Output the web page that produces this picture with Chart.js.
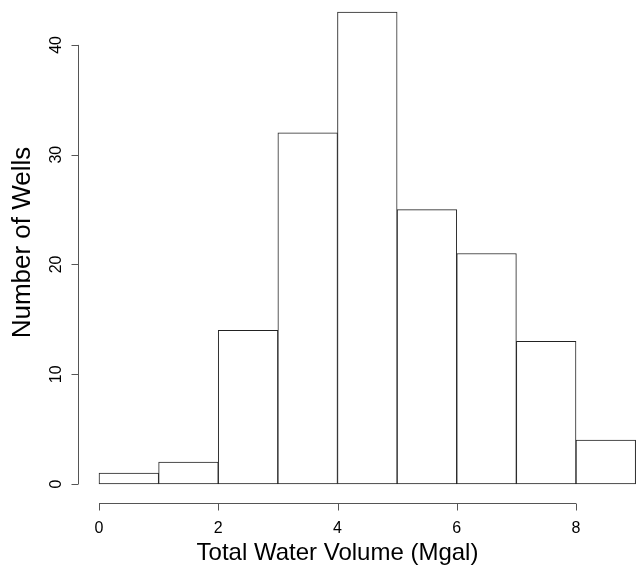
<!DOCTYPE html>
<html>
<head>
<meta charset="utf-8">
<script src="https://cdn.jsdelivr.net/npm/chart.js@4/dist/chart.umd.min.js"></script>
<style>
  html, body { margin: 0; padding: 0; background: #fff; }
  #wrap { width: 638px; height: 571px; }
</style>
</head>
<body>
<div id="wrap"><canvas id="histChart" width="638" height="571"></canvas></div>
<script>
// histogram bins (Mgal) and counts
const binStarts = [0, 1, 2, 3, 4, 5, 6, 7, 8];
const binWidth = 1;
const wellCounts = [1, 2, 14, 32, 43, 25, 21, 13, 4];
const xTicks = [0, 2, 4, 6, 8];
const yTicks = [0, 10, 20, 30, 40];

const FONT = "'Liberation Sans', Arial, sans-serif";

// R-style axes: detached line from first to last tick, ticks pointing outward
const rAxes = {
  id: "rAxes",
  afterDraw(chart) {
    const { ctx, scales: { x, y } } = chart;
    ctx.save();
    ctx.strokeStyle = "#555";
    ctx.lineWidth = 1;

    const axY = Math.round(chart.chartArea.bottom + 19) + 0.5;
    ctx.beginPath();
    ctx.moveTo(x.getPixelForValue(xTicks[0]), axY);
    ctx.lineTo(x.getPixelForValue(xTicks[xTicks.length - 1]), axY);
    xTicks.forEach((t) => {
      const px = Math.round(x.getPixelForValue(t)) + 0.5;
      ctx.moveTo(px, axY);
      ctx.lineTo(px, axY + 7);
    });
    ctx.stroke();

    const axX = Math.round(chart.chartArea.left - 21) + 0.5;
    ctx.beginPath();
    ctx.moveTo(axX, y.getPixelForValue(yTicks[0]));
    ctx.lineTo(axX, y.getPixelForValue(yTicks[yTicks.length - 1]));
    yTicks.forEach((t) => {
      const py = Math.round(y.getPixelForValue(t)) + 0.5;
      ctx.moveTo(axX, py);
      ctx.lineTo(axX - 7, py);
    });
    ctx.stroke();
    ctx.restore();
  },
};

new Chart(document.getElementById("histChart"), {
  type: "bar",
  data: {
    datasets: [
      {
        label: "Number of Wells",
        data: binStarts.map((s, i) => ({ x: s + binWidth / 2, y: wellCounts[i] })),
        backgroundColor: "#fff",
        borderColor: "#222",
        borderWidth: 1,
        borderSkipped: false,
        barPercentage: 1,
        categoryPercentage: 1,
        clip: false,
      },
    ],
  },
  options: {
    responsive: false,
    animation: false,
    layout: { padding: { top: 1, right: 62, left: 0, bottom: 0 } },
    plugins: {
      legend: { display: false },
      tooltip: { enabled: false },
    },
    scales: {
      x: {
        type: "linear",
        offset: false,
        min: 0,
        max: 8,
        grid: { display: false, drawTicks: false },
        border: { display: false },
        ticks: {
          stepSize: 2,
          includeBounds: false,
          padding: 35,
          color: "#000",
          font: { family: FONT, size: 16 },
        },
        title: {
          display: true,
          text: "Total Water Volume (Mgal)",
          color: "#000",
          font: { family: FONT, size: 24 },
          padding: { top: 0, bottom: 3 },
        },
        afterFit: (s) => {
          s.height = 87;
          s.paddingLeft = 0;
          s.paddingRight = 0;
        },
      },
      y: {
        min: 0,
        max: 44,
        grid: { display: false, drawTicks: false },
        border: { display: false },
        ticks: {
          stepSize: 10,
          includeBounds: false,
          minRotation: 90,
          maxRotation: 90,
          crossAlign: "center",
          padding: 34,
          color: "#000",
          font: { family: FONT, size: 16 },
        },
        title: {
          display: true,
          text: "Number of Wells",
          color: "#000",
          font: { family: FONT, size: 26 },
          padding: { top: 7.5, bottom: 0 },
        },
        afterFit: (s) => {
          s.width = 99;
          s.paddingTop = 0;
          s.paddingBottom = 0;
        },
      },
    },
  },
  plugins: [rAxes],
});
</script>
</body>
</html>
